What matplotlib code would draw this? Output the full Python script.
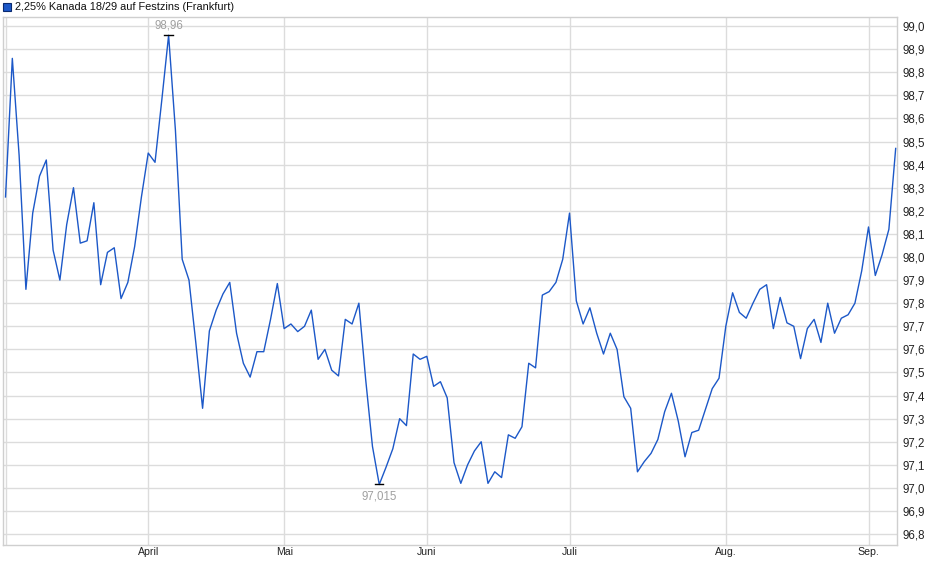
import numpy as np
import matplotlib.pyplot as plt
from matplotlib.patches import Rectangle

plt.rcParams["font.family"] = ["Liberation Sans", "DejaVu Sans"]

title = "2,25% Kanada 18/29 auf Festzins (Frankfurt)"

# daily closing prices, one per trading day (early March to early September)
prices = [
    98.26, 98.86, 98.44, 97.86, 98.19, 98.35, 98.42, 98.03, 97.90, 98.14,
    98.30, 98.06, 98.07, 98.235, 97.88, 98.02, 98.04, 97.82, 97.89, 98.045,
    98.26, 98.45, 98.41, 98.68, 98.96, 98.55, 97.99, 97.90, 97.63, 97.345,
    97.68, 97.77, 97.84, 97.89, 97.67, 97.54, 97.48, 97.59, 97.59, 97.73,
    97.885, 97.69, 97.71, 97.677, 97.70, 97.77, 97.557, 97.60, 97.51, 97.485,
    97.73, 97.71, 97.80, 97.47, 97.18, 97.015, 97.09, 97.17, 97.30, 97.27,
    97.58, 97.557, 97.57, 97.44, 97.46, 97.39, 97.11, 97.02, 97.10, 97.16,
    97.20, 97.02, 97.07, 97.045, 97.23, 97.215, 97.265, 97.54, 97.52, 97.835,
    97.85, 97.89, 97.99, 98.19, 97.81, 97.71, 97.78, 97.67, 97.58, 97.67,
    97.60, 97.395, 97.345, 97.07, 97.114, 97.15, 97.21, 97.33, 97.41, 97.29,
    97.135, 97.24, 97.25, 97.34, 97.43, 97.475, 97.70, 97.845, 97.76, 97.735,
    97.80, 97.86, 97.88, 97.69, 97.825, 97.715, 97.70, 97.56, 97.69, 97.73,
    97.63, 97.80, 97.67, 97.735, 97.75, 97.80, 97.94, 98.13, 97.92, 98.01,
    98.12, 98.47,
]

# first trading day of each month (index into prices)
month_pos = [0, 21, 41, 62, 83, 106, 127]
month_labels = ["", "April", "Mai", "Juni", "Juli", "Aug.", "Sep."]

y_ticks = np.round(np.arange(96.8, 99.05, 0.1), 1)

line_color = "#1c58c8"
grid_color = "#dcdcdc"


def de_num(v, digits):
    return f"{v:.{digits}f}".replace(".", ",")


fig = plt.figure(figsize=(9.4, 5.79), dpi=100)
ax = fig.add_axes([0.0027, 0.0587, 0.9516, 0.9119])

x = np.arange(len(prices))
ax.plot(x, prices, color=line_color, lw=1.0, zorder=3)

ax.set_xlim(-0.44, 131.2)
ax.set_ylim(96.753, 99.039)

ax.yaxis.tick_right()
ax.set_yticks(y_ticks)
ax.set_yticklabels([de_num(v, 1) for v in y_ticks])
ax.set_xticks(month_pos)
ax.set_xticklabels(month_labels)
ax.tick_params(axis="y", length=0, pad=4, labelsize=8.3, colors="#222222")
ax.tick_params(axis="x", length=0, pad=1.5, labelsize=7.6, colors="#222222")

ax.grid(True, color=grid_color, lw=1.0, zorder=0)
for s in ax.spines.values():
    s.set_color("#cfcfcf")
    s.set_linewidth(1.0)

# high / low markers
i_max = int(np.argmax(prices))
i_min = int(np.argmin(prices))
for i, dy, va in [(i_max, 3, "bottom"), (i_min, -4, "top")]:
    v = prices[i]
    ax.plot([i - 0.62, i + 0.62], [v, v], color="black", lw=1.0, zorder=4)
    txt = f"{v:.3f}".rstrip("0").replace(".", ",")
    ax.annotate(txt, xy=(i, v), xytext=(0, dy), textcoords="offset points",
                ha="center", va=va, color="#a0a0a0", fontsize=8.3)

# legend entry at the top
fig.add_artist(Rectangle((3 / 940, 1 - 11 / 579), 8 / 940, 8 / 579,
                         transform=fig.transFigure, facecolor=line_color,
                         edgecolor="#0a2a70", lw=0.8))
fig.text(15 / 940, 1 - 6.5 / 579, title, ha="left", va="center",
         fontsize=7.9, color="#111111")

fig.savefig("out.png", dpi=100)
